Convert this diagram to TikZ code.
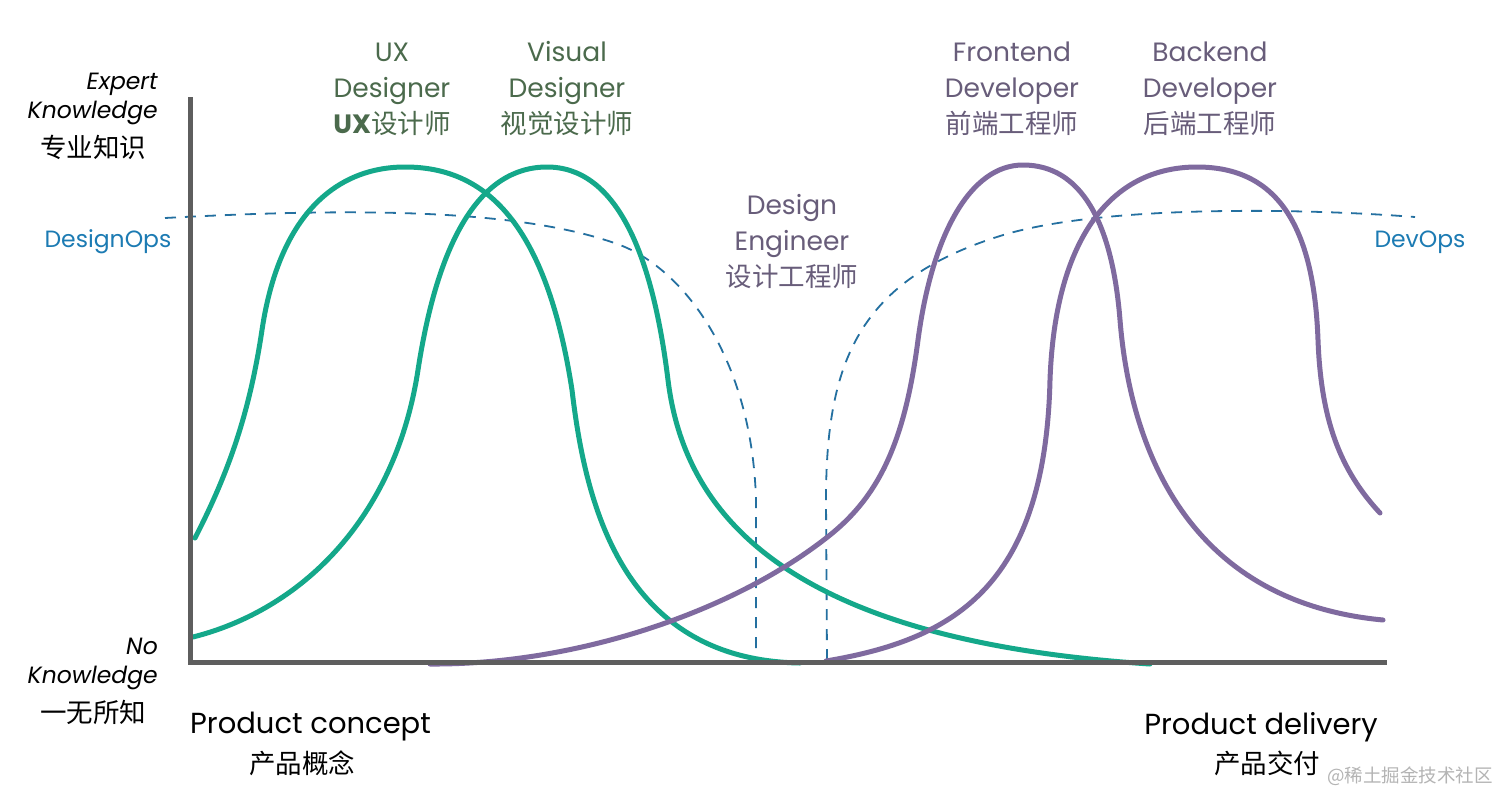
\documentclass[tikz,border=0pt]{standalone}
\usepackage{fontspec}
\setmainfont{Poppins}
\newfontfamily\cjk{Noto Sans CJK SC}
\definecolor{tealc}{HTML}{14A88A}
\definecolor{purc}{HTML}{7F6A9F}
\definecolor{dashc}{HTML}{2470A0}
\definecolor{axisc}{HTML}{5E5E5E}
\definecolor{greentxt}{HTML}{4B6A4C}
\definecolor{purtxt}{HTML}{685D7A}
\definecolor{bluetxt}{HTML}{1C7BB3}
\definecolor{wmc}{HTML}{B4B4B4}
\begin{document}
\begin{tikzpicture}[x=1pt,y=-1pt,
  curve/.style={line width=5pt,line cap=round,line join=round},
  ops/.style={line width=1.8pt,draw=dashc,dash pattern=on 11pt off 9pt},
  role/.style={align=center,inner sep=0pt,font=\fontsize{26.5}{36}\selectfont},
  side/.style={inner sep=0pt,font=\fontsize{23.5}{29}\selectfont\itshape,align=right},
  cn/.style={inner sep=0pt,font=\cjk\fontsize{26.5}{30}\selectfont},
  big/.style={inner sep=0pt,font=\fontsize{29}{34}\selectfont}]
\fill[white] (0,0) rectangle (1512,809);
\useasboundingbox (0,0) rectangle (1512,809);
% dashed DesignOps / DevOps
\draw[ops] (165,218) .. controls (350,208) and (520,208) .. (620,245)
  .. controls (685,270) and (752,360) .. (756,500) -- (756,660);
\draw[ops] (827,660) -- (826,500) .. controls (826,360) and (860,280) .. (1000,236)
  .. controls (1098,205) and (1300,208) .. (1415,217);
% UX designer
\draw[curve,tealc] (195,538) .. controls (230,470) and (250,410) .. (262,330)
  .. controls (280,210) and (340,167) .. (405,167)
  .. controls (480,167) and (545,215) .. (572,390)
  .. controls (585,500) and (620,660) .. (800,663);
% Visual designer
\draw[curve,tealc] (193,637) .. controls (300,610) and (395,520) .. (418,370)
  .. controls (438,240) and (480,167) .. (547,167)
  .. controls (615,167) and (652,250) .. (668,380)
  .. controls (684,510) and (780,640) .. (1150,664);
% Frontend developer
\draw[curve,purc] (430,664) .. controls (570,665) and (730,615) .. (830,535)
  .. controls (880,495) and (905,440) .. (918,340)
  .. controls (932,235) and (970,165) .. (1023,165)
  .. controls (1080,165) and (1112,220) .. (1120,320)
  .. controls (1128,420) and (1170,600) .. (1383,620);
% Backend developer
\draw[curve,purc] (826,661) .. controls (950,640) and (1045,590) .. (1050,380)
  .. controls (1055,240) and (1110,167) .. (1197,167)
  .. controls (1280,167) and (1314,230) .. (1318,340)
  .. controls (1321,420) and (1340,470) .. (1380,513);
% axes
\coordinate (top) at (190,97);
\coordinate (origin) at (190,662);
\coordinate (right) at (1387,662);
\draw[line width=5pt,axisc,line join=miter] (top) -- (origin) -- (right);
% side labels
\node[side,anchor=north east] (expert) at (158,73) {Expert\\Knowledge};
\node[cn] (expertcn) at (93,147) {专业知识};
\node[side,anchor=north east] (noknow) at (158,638) {No\\Knowledge};
\node[cn] (noknowcn) at (93,712) {一无所知};
\node[inner sep=0pt,font=\fontsize{23.5}{26}\selectfont,text=bluetxt] (designops) at (108,242) {DesignOps};
\node[inner sep=0pt,font=\fontsize{23.5}{26}\selectfont,text=bluetxt] (devops) at (1420,242) {DevOps};
% role labels
\node[role,text=greentxt] (ux) at (392,89) {UX\\Designer\\{\fontseries{sb}\selectfont UX}{\cjk 设计师}};
\node[role,text=greentxt] (visual) at (567,89) {Visual\\Designer\\{\cjk 视觉设计师}};
\node[role,text=purtxt] (deseng) at (792,242) {Design\\Engineer\\{\cjk 设计工程师}};
\node[role,text=purtxt] (front) at (1012,89) {Frontend\\Developer\\{\cjk 前端工程师}};
\node[role,text=purtxt] (back) at (1210,89) {Backend\\Developer\\{\cjk 后端工程师}};
% bottom labels
\node[big,anchor=west] (concept) at (190,727) {Product concept};
\node[cn] (conceptcn) at (302,763) {产品概念};
\node[big,anchor=east] (delivery) at (1378,727) {Product delivery};
\node[cn] (deliverycn) at (1267,763) {产品交付};
\node[inner sep=0pt,text=wmc,font=\cjk\fontsize{18.5}{20}\selectfont] (wm) at (1410,776) {@稀土掘金技术社区};
\end{tikzpicture}
\end{document}
